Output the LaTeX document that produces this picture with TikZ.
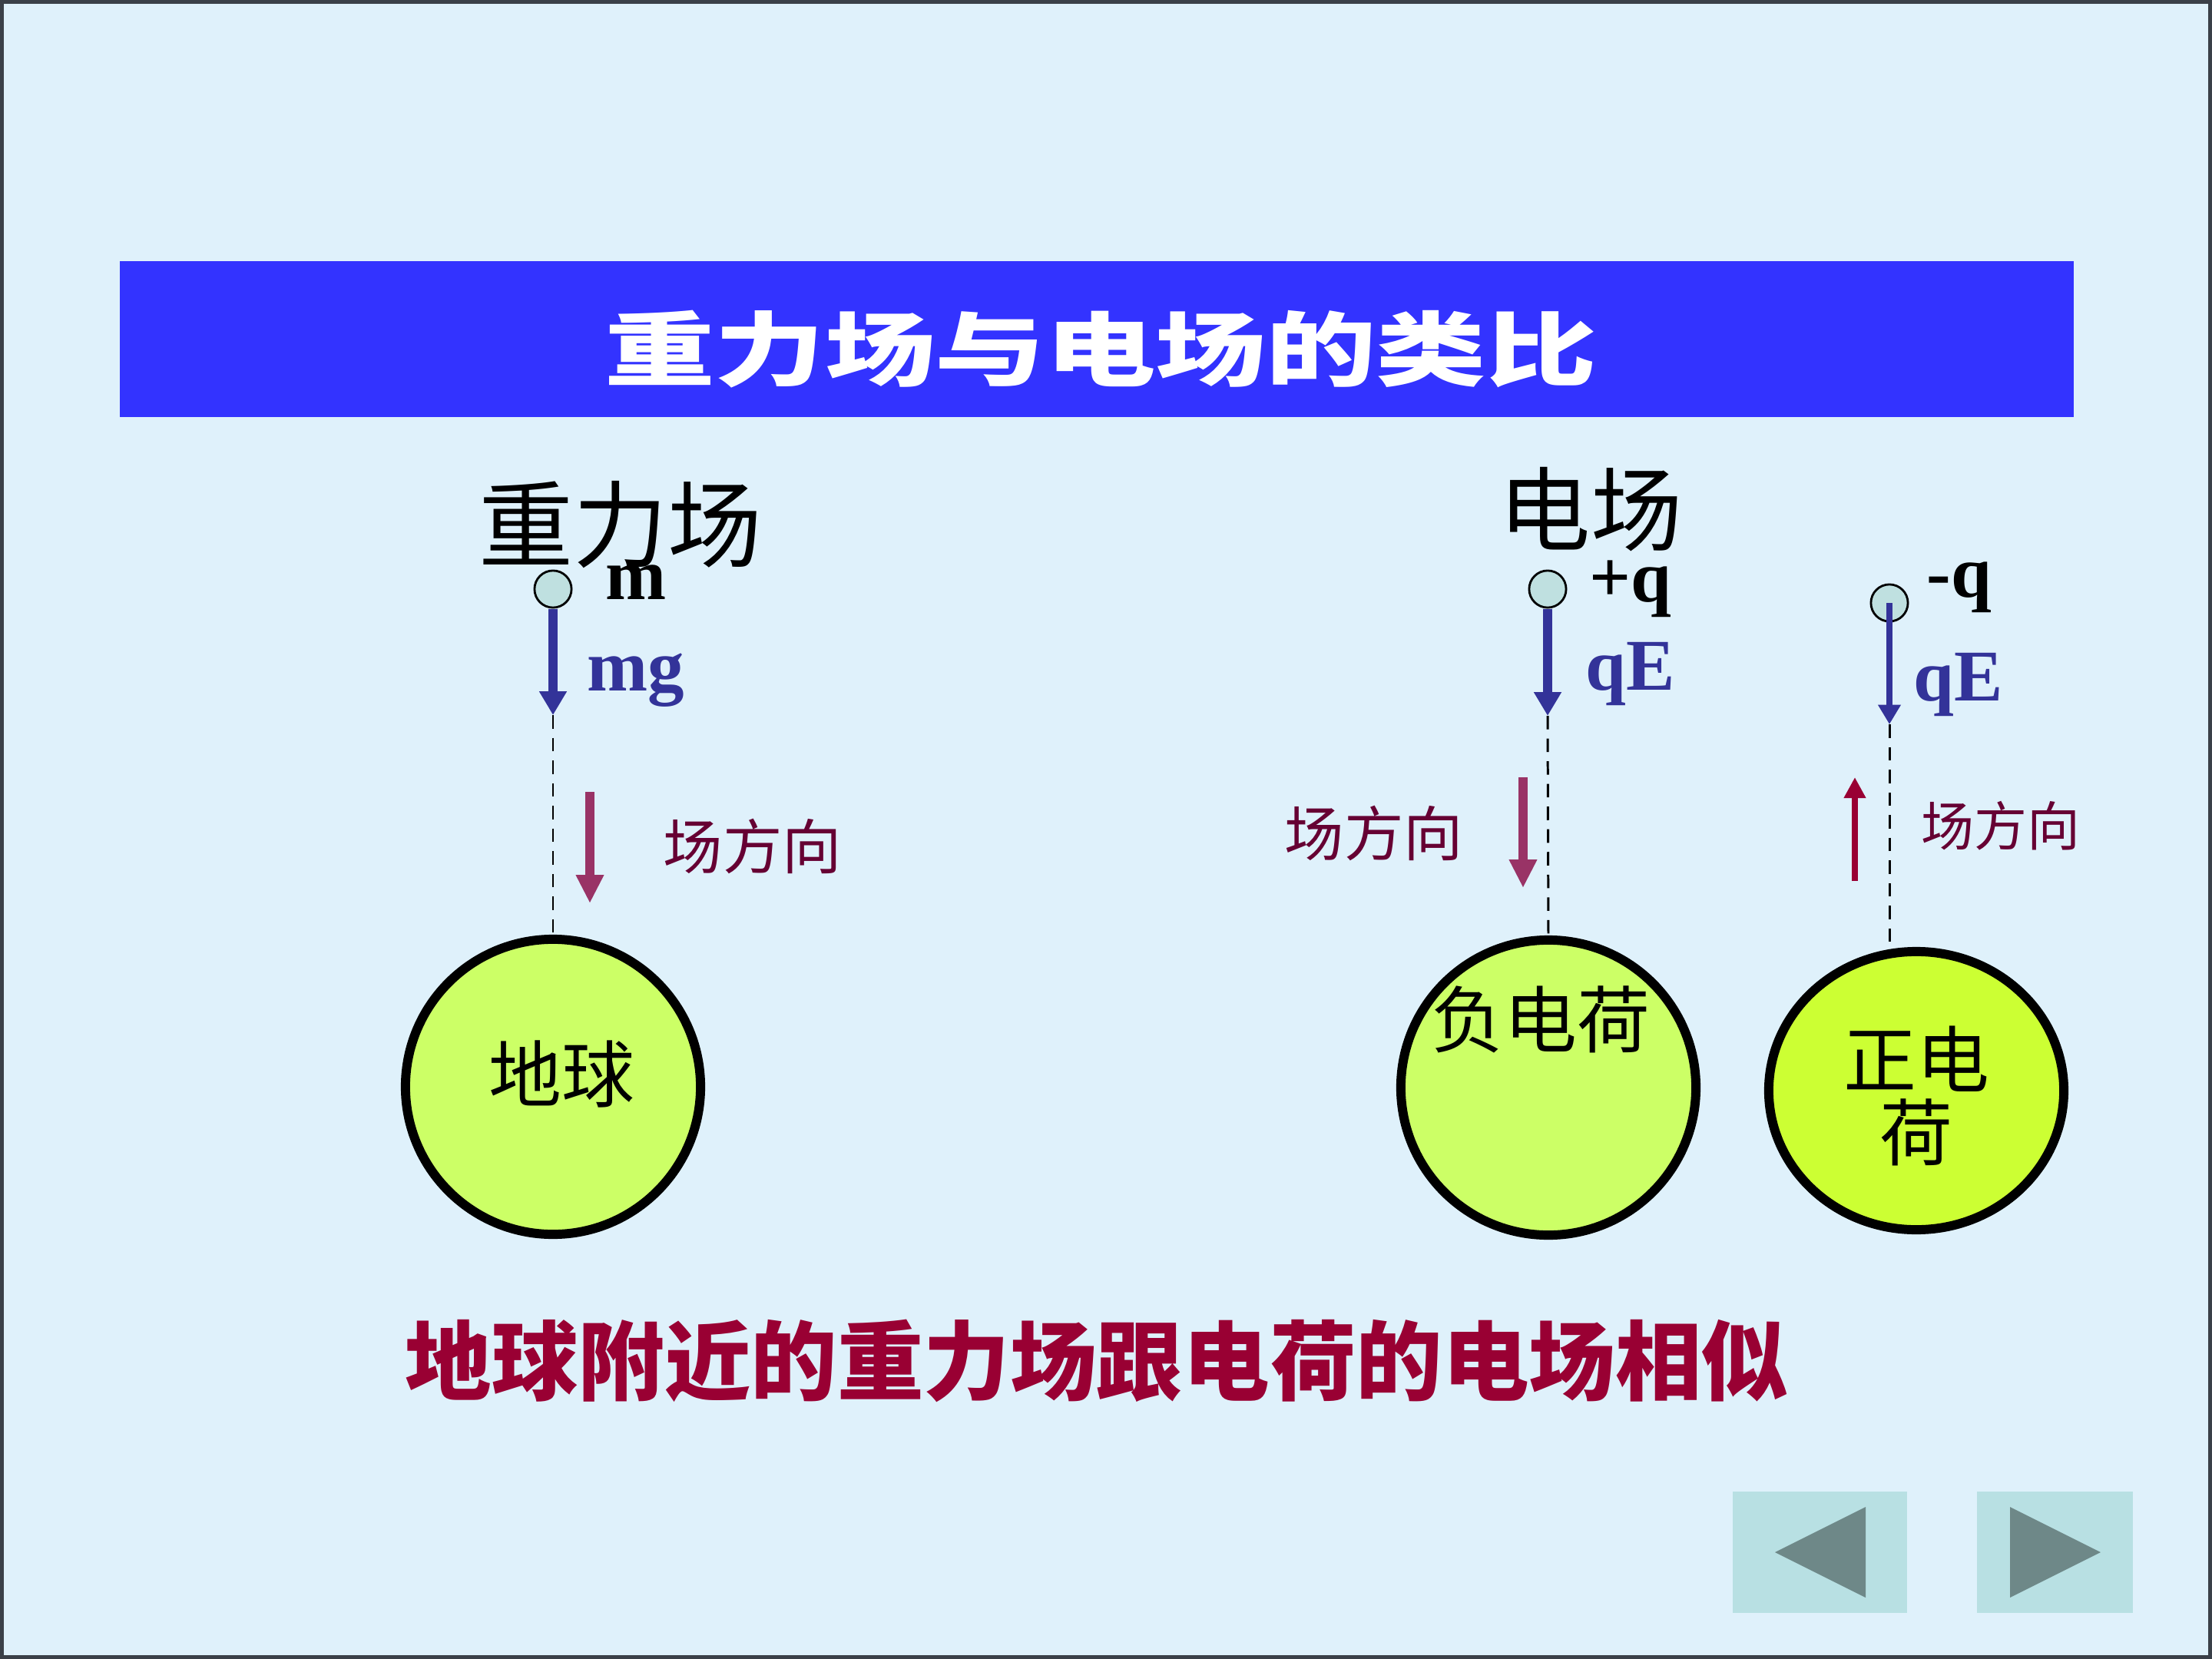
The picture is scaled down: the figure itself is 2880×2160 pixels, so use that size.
\documentclass[tikz,border=0pt]{standalone}
\usepackage{fontspec}
\setmainfont{Liberation Serif}
\newfontfamily\cjk{Noto Sans CJK SC}
\usetikzlibrary{arrows.meta,shapes.geometric}
\definecolor{bgc}{HTML}{DFF1FB}
\definecolor{framec}{HTML}{3A4048}
\definecolor{titleblue}{HTML}{3333FF}
\definecolor{partc}{HTML}{BFE0E0}
\definecolor{forceblue}{HTML}{333399}
\definecolor{fieldm}{HTML}{993366}
\definecolor{labelm}{HTML}{660033}
\definecolor{fieldr}{HTML}{990033}
\definecolor{ballA}{HTML}{CCFF66}
\definecolor{ballB}{HTML}{CCFF33}
\definecolor{navbg}{HTML}{B8E0E3}
\definecolor{navfg}{HTML}{6E8888}
\newcommand{\myfs}[1]{\fontsize{#1}{#1}\selectfont}
\tikzset{
  particle/.style={circle, draw=black, line width=0.8pt, fill=partc, minimum size=13.7pt, inner sep=0pt},
  ball/.style={ellipse, draw=black, line width=3.4pt, inner sep=0pt},
  force/.style={draw=forceblue, line width=3.4pt, -{Triangle[width=9.7pt,length=8.8pt]}},
  forcethin/.style={draw=forceblue, line width=2.3pt, -{Triangle[width=8pt,length=7.2pt]}},
  guide/.style={draw=black, line width=0.85pt, dash pattern=on 5pt off 3.4pt},
  fielddn/.style={draw=fieldm, line width=3.2pt, -{Triangle[width=9.7pt,length=10.5pt]}},
  fieldup/.style={draw=fieldr, line width=2.3pt, -{Triangle[width=7.7pt,length=7.7pt]}},
  cjklabel/.style={inner sep=0pt, font=\cjk},
  latin/.style={inner sep=0pt, font=\bfseries},
}
\begin{document}
\begin{tikzpicture}[x=0.01cm,y=-0.01cm]
\useasboundingbox (0,0) rectangle (2880,2160);
\fill[bgc] (0,0) rectangle (2880,2160);
\draw[framec, line width=0.05cm] (2.5,2.5) rectangle (2877.5,2157.5);

% title bar
\fill[titleblue] (156,340) rectangle (2700,543);
\node[cjklabel, text=white] (title) at (1433,455) {\scalebox{1.36}[1]{\bfseries\myfs{30}重力场与电场的类比}};

% headings
\node[cjklabel] (hgrav) at (808,683) {\myfs{35}重力场};
\node[cjklabel] (helec) at (2071,663) {\myfs{34}电场};

% particles
\node[particle] (pm) at (720,767) {};
\node[particle] (pq) at (2015,767) {};
\node[particle] (nq) at (2460,785) {};

\node[latin] (lm) at (828,758) {\myfs{27}m};
\node[latin] (lpq) at (2123,767) {\myfs{27}+q};
\node[latin] (lnq) at (2551,765) {\myfs{27}-q};

\node[latin, text=forceblue] (lmg) at (828,886) {\myfs{27}mg};
\node[latin, text=forceblue] (lqe1) at (2123,878) {\myfs{27}qE};
\node[latin, text=forceblue] (lqe2) at (2550,892) {\myfs{27}qE};

% balls
\node[ball, fill=ballA, minimum width=3.84cm, minimum height=3.84cm] (earth) at (720,1415) {};
\node[ball, fill=ballA, minimum width=3.84cm, minimum height=3.84cm] (neg) at (2016,1416) {};
\node[ball, fill=ballB, minimum width=3.84cm, minimum height=3.62cm] (pos) at (2495,1420) {};

\node[cjklabel] (tearth) at (731,1398) {\myfs{27}地球};
\node[cjklabel] (tneg) at (2006,1327) {\myfs{27}负电荷};
\node[cjklabel, align=center, font=\cjk\myfs{27}\linespread{1}\selectfont] (tpos) at (2495,1427) {\fontsize{27}{33.6}\selectfont 正电\\荷};

% force arrows and guides
\coordinate (tipm) at (720,931);
\coordinate (tipq) at (2015,932);
\coordinate (tipn) at (2460,943);
\draw[force] (pm.south) -- (tipm);
\draw[force] (pq.south) -- (tipq);
\draw[forcethin] (nq.center) -- (tipn);
\draw[guide] (tipm) -- (earth.north);
\draw[guide] (tipq) -- (neg.north);
\draw[guide] (tipn) -- (2460,1243);

% field direction arrows
\coordinate (fa1) at (768,1031);
\coordinate (fb1) at (768,1176);
\coordinate (fa2) at (1983,1012);
\coordinate (fb2) at (1983,1156);
\coordinate (fa3) at (2415,1147);
\coordinate (fb3) at (2415,1012);
\draw[fielddn] (fa1) -- (fb1);
\draw[fielddn] (fa2) -- (fb2);
\draw[fieldup] (fa3) -- (fb3);

\node[cjklabel, text=labelm] (fd1) at (980,1102) {\myfs{22}场方向};
\node[cjklabel, text=labelm] (fd2) at (1789,1085) {\myfs{22}场方向};
\node[cjklabel, text=labelm] (fd3) at (2605,1075) {\myfs{19.6}场方向};

% conclusion
\node[cjklabel, text=fieldr] (concl) at (1428,1772) {\bfseries\myfs{32}地球附近的重力场跟电荷的电场相似};

% navigation buttons
\fill[navbg] (2256,1942) rectangle (2483,2100);
\fill[navfg] (2311,2021) -- (2429,1962) -- (2429,2080) -- cycle;
\fill[navbg] (2574,1942) rectangle (2777,2100);
\fill[navfg] (2735,2021) -- (2617,1962) -- (2617,2080) -- cycle;
\end{tikzpicture}
\end{document}
